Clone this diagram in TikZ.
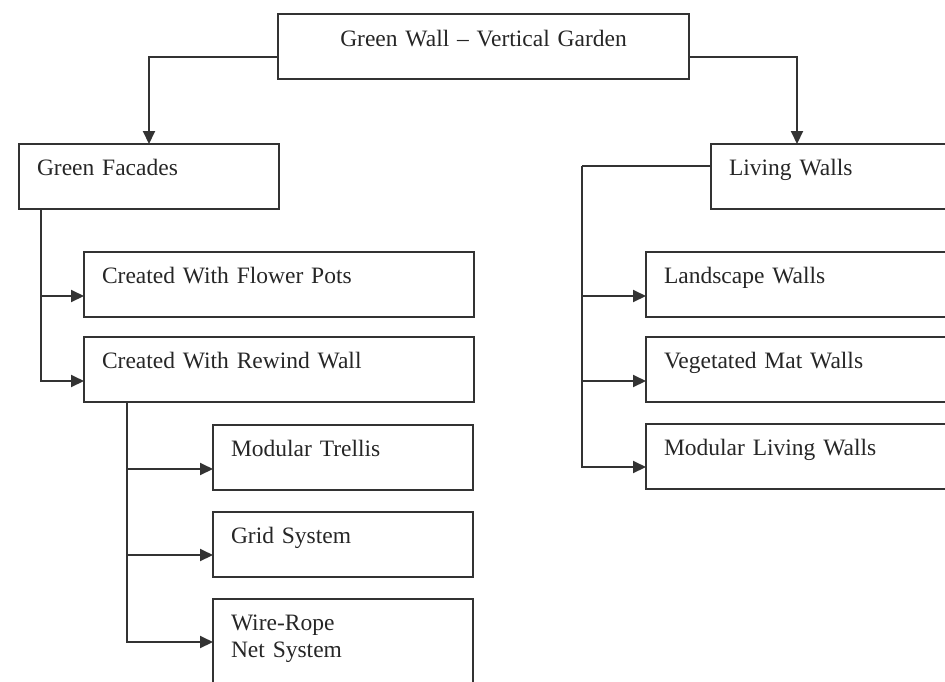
\documentclass[tikz,border=0pt]{standalone}
\usepackage{fontspec}
\setmainfont[WordSpace=0.8]{Liberation Serif}
\usetikzlibrary{arrows.meta,positioning}
\definecolor{linegray}{HTML}{333333}
\definecolor{textgray}{HTML}{262626}

\begin{document}
\begin{tikzpicture}[
    x=1pt, y=-1pt,
    box/.style={rectangle, draw=linegray, line width=2pt, anchor=north west, outer sep=0pt, inner xsep=18pt, inner ysep=0pt, text height=31pt, text depth=34pt, text width=#1, align=left, text=textgray, font=\fontsize{23.5}{27}\selectfont},
    box/.default=224pt,
    arrow/.style={-{Triangle[length=13pt,width=12pt]}, line width=2pt, draw=linegray},
    link/.style={line width=2pt, draw=linegray}
]
\useasboundingbox (0,0) rectangle (945,681);
\clip (0,0) rectangle (945,681);

\node[box=375pt, align=center, text height=32pt, text depth=33pt] (top) at (278,14) {Green Wall -- Vertical Garden};

\node[box] (facades) at (19,144) {Green Facades};
\node[box=284pt] (living) at (711,144) {Living Walls};

% green facades branch
\node[box=354pt] (pots) at (84,252) {Created With Flower Pots};
\node[box=354pt, below=20pt of pots.south west, anchor=north west] (rewind) {Created With Rewind Wall};
\node[box] (trellis) at (213,425) {Modular Trellis};
\node[box, below=22pt of trellis.south west, anchor=north west] (grid) {Grid System};
\node[box, below=22pt of grid.south west, anchor=north west, text depth=70pt] (wire) {Wire-Rope\\Net System};

% living walls branch
\node[box=284pt] (landscape) at (646,252) {Landscape Walls};
\node[box=284pt, below=20pt of landscape.south west, anchor=north west] (vegmat) {Vegetated Mat Walls};
\node[box=284pt, below=22pt of vegmat.south west, anchor=north west] (modliving) {Modular Living Walls};

\draw[arrow] ([yshift=-10.5pt]top.west) -| (facades.north);
\draw[arrow] ([yshift=-10.5pt]top.east) -| ([xshift=86pt]living.north west);

\draw[arrow] ([xshift=22pt]facades.south west) |- ([yshift=-44pt]pots.north west);
\draw[arrow] ([xshift=22pt]facades.south west) |- ([yshift=-44pt]rewind.north west);
\draw[arrow] ([xshift=43pt]rewind.south west) |- ([yshift=-44pt]trellis.north west);
\draw[arrow] ([xshift=43pt]rewind.south west) |- ([yshift=-43pt]grid.north west);
\draw[arrow] ([xshift=43pt]rewind.south west) |- ([yshift=-43pt]wire.north west);

\coordinate (rtrunk) at (582,166);
\draw[link] ([yshift=10.5pt]living.west) -- (rtrunk);
\draw[arrow] (rtrunk) |- ([yshift=-44pt]landscape.north west);
\draw[arrow] (rtrunk) |- ([yshift=-44pt]vegmat.north west);
\draw[arrow] (rtrunk) |- ([yshift=-43pt]modliving.north west);

\end{tikzpicture}
\end{document}
